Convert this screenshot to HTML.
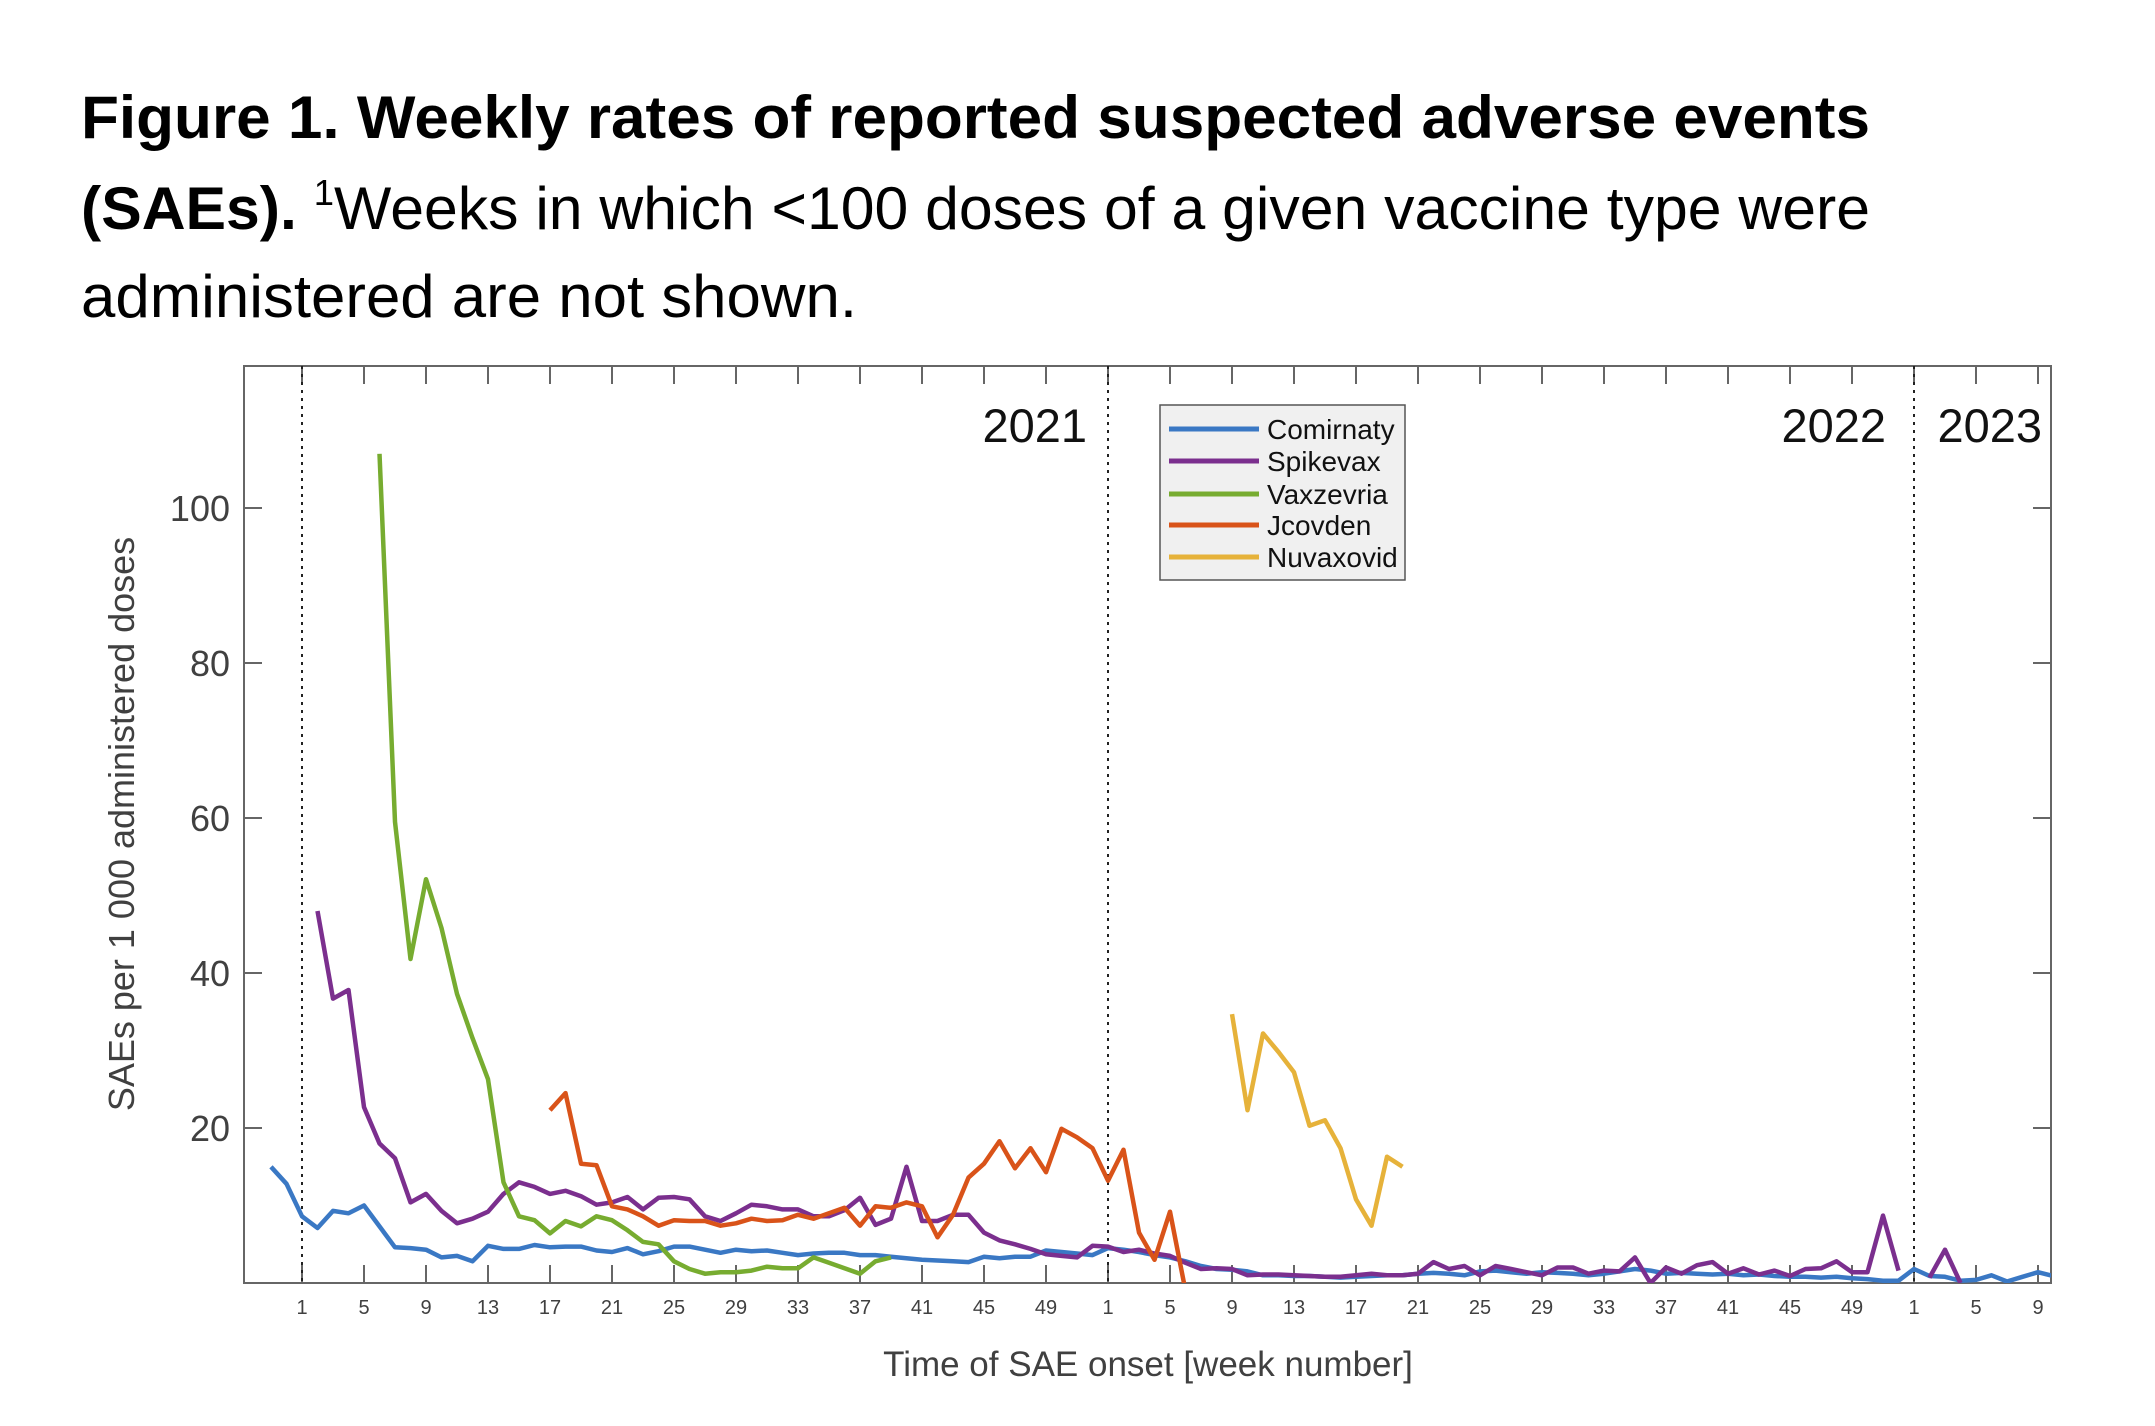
<!DOCTYPE html>
<html><head><meta charset="utf-8"><style>
html,body{margin:0;padding:0;background:#fff;}
svg{display:block;font-family:"Liberation Sans",Arial,sans-serif;}
</style></head><body>
<svg id="fig" width="2155" height="1426" viewBox="0 0 2155 1426" xmlns="http://www.w3.org/2000/svg">
<g>
<text x="81" y="138" font-size="60" font-weight="bold" textLength="1789" lengthAdjust="spacingAndGlyphs">Figure 1. Weekly rates of reported suspected adverse events</text>
<text x="81" y="229" font-size="60" textLength="1789" lengthAdjust="spacingAndGlyphs"><tspan font-weight="bold">(SAEs).</tspan> <tspan font-size="36" dy="-24">1</tspan><tspan dy="24">Weeks in which &lt;100 doses of a given vaccine type were</tspan></text>
<text x="81" y="317" font-size="60" textLength="776" lengthAdjust="spacingAndGlyphs">administered are not shown.</text>
</g>
<g id="axes"></g>
<g id="series" clip-path="url(#clip)"></g>
<defs><clipPath id="clip"><rect x="244" y="366" width="1807" height="917"/></clipPath></defs>
<g>
<rect x="1160" y="405" width="245" height="175" fill="#f0f0f0" stroke="#555" stroke-width="1.5"/>
<g id="legend-items"></g>
</g>
</svg>
<script>
const seriesNames = ["Comirnaty","Spikevax","Vaxzevria","Jcovden","Nuvaxovid"];
const seriesColors = ["#3a78c4","#7b2f8e","#77ac30","#d95319","#e6b23a"];
const seriesStart = [-2, 1, 5, 16, 60];
const comirnaty = [15,12.8,8.6,7.1,9.3,9,10,7.3,4.6,4.5,4.3,3.3,3.5,2.8,4.8,4.4,4.4,4.9,4.6,4.7,4.7,4.2,4.0,4.5,3.7,4.1,4.7,4.7,4.3,3.9,4.3,4.1,4.2,3.9,3.6,3.8,3.9,3.9,3.6,3.6,3.4,3.2,3.0,2.9,2.8,2.7,3.4,3.2,3.4,3.4,4.2,4.0,3.8,3.6,
4.5,4.3,4.0,3.6,3.3,2.8,2.2,1.8,1.7,1.5,1.0,1.0,0.9,0.9,0.8,0.7,0.8,0.9,1.0,1.0,1.2,1.3,1.2,1.0,1.5,1.6,1.4,1.2,1.4,1.3,1.2,1.0,1.2,1.5,1.8,1.6,1.2,1.3,1.2,1.1,1.2,1.0,1.1,0.9,0.8,0.8,0.7,0.8,0.6,0.5,0.3,0.3,1.8,0.9,0.8,0.3,0.4,1.0,0.2,0.8,1.4,0.9];
const spikevax = [48,36.7,37.8,22.7,18,16.1,10.4,11.5,9.3,7.7,8.3,9.2,11.5,13,12.4,11.5,11.9,11.2,10.1,10.4,11.1,9.5,11,11.1,10.8,8.6,8,9,10.1,9.9,9.5,9.5,8.6,8.6,9.4,11,7.5,8.3,15,8,8,8.8,8.8,6.5,5.5,5,4.4,3.7,3.5,3.3,4.8,
4.7,4,4.3,3.8,3.5,2.6,1.8,1.9,1.8,1.0,1.1,1.1,1.0,0.9,0.8,0.8,1.0,1.2,1.0,1.0,1.2,2.7,1.8,2.2,1.0,2.2,1.8,1.4,1.0,2.0,2.0,1.2,1.6,1.5,3.3,0.0,2.0,1.2,2.3,2.7,1.2,1.9,1.1,1.6,0.9,1.8,1.9,2.8,1.4,1.4,8.7,1.6,null,0.7,4.3,0];
const vaxzevria = [107,59.5,41.8,52.1,45.8,37.3,31.6,26.3,13,8.6,8.1,6.4,8,7.3,8.6,8.1,6.8,5.3,5,2.8,1.8,1.2,1.4,1.4,1.6,2.1,1.9,1.9,3.3,2.6,1.9,1.2,2.8,3.3];
const jcovden = [22.3,24.5,15.4,15.2,9.9,9.5,8.6,7.4,8.1,8,8,7.4,7.7,8.3,8,8.1,8.8,8.3,9,9.7,7.4,9.9,9.7,10.4,9.9,5.9,8.8,13.6,15.4,18.3,14.8,17.4,14.3,19.9,18.8,17.4,13.2,17.2,6.5,3,9.2,-1];
const nuvaxovid = [34.7,22.3,32.2,29.8,27.2,20.3,21,17.4,10.8,7.4,16.3,15];
const yTicks = [20,40,60,80,100];
const weekLabels = [1,5,9,13,17,21,25,29,33,37,41,45,49];
const yearStarts = [0,52,104];
const yearLabels = ["2021","2022","2023"];

const NS="http://www.w3.org/2000/svg";
const L=244,R=2051,T=366,B=1283;
const xs=i=>302+i*15.5;
const ys=v=>1283-v*7.75;
function mk(tag,attrs,parent){const e=document.createElementNS(NS,tag);for(const k in attrs)e.setAttribute(k,attrs[k]);parent.appendChild(e);return e;}
const ax=document.getElementById('axes');
const fr=mk('rect',{x:L,y:T,width:R-L,height:B-T,fill:'none',stroke:'#666','stroke-width':2},ax);


yTicks.forEach(v=>{
  const y=ys(v);
  const t1=mk('line',{x1:L,x2:L+18,y1:y,y2:y,stroke:'#666','stroke-width':2},ax);
  
  
  const t2=mk('line',{x1:R-18,x2:R,y1:y,y2:y,stroke:'#666','stroke-width':2},ax);
  
  
  const tx=mk('text',{x:230,y:y+13,'text-anchor':'end','font-size':36,fill:'#404040'},ax);
  tx.textContent=v;
  
  
});
const xTickIdx=[];
yearStarts.forEach((s,k)=>{weekLabels.forEach(w=>{const i=s+w-1; if(xs(i)<R-5) xTickIdx.push([i,w]);});});
xTickIdx.forEach(([i,w])=>{
  const x=xs(i);
  const a=mk('line',{x1:x,x2:x,y1:B-18,y2:B,stroke:'#666','stroke-width':2},ax);
  
  
  const b=mk('line',{x1:x,x2:x,y1:T,y2:T+18,stroke:'#666','stroke-width':2},ax);
  
  
  const tx=mk('text',{x:x,y:1314,'text-anchor':'middle','font-size':20,fill:'#404040'},ax);
  tx.textContent=w;
  
  
});
yearStarts.forEach(s=>{
  const d=mk('line',{x1:xs(s),x2:xs(s),y1:T,y2:B,stroke:'#222','stroke-width':2,'stroke-dasharray':'3,5'},ax);
  
  
});
const ylx=[1087,1886,2042];
yearLabels.forEach((t,k)=>{
  const e=mk('text',{x:ylx[k],y:442,'text-anchor':'end','font-size':47,fill:'#111'},ax);
  e.textContent=t;
  
  
});
const xt=mk('text',{x:1148,y:1376,'text-anchor':'middle','font-size':35,fill:'#404040'},ax);
xt.textContent='Time of SAE onset [week number]';


const yt=mk('text',{x:0,y:0,'text-anchor':'middle','font-size':36,fill:'#404040',transform:'translate(134,824) rotate(-90)'},ax);
yt.textContent='SAEs per 1 000 administered doses';


const data=[comirnaty,spikevax,vaxzevria,jcovden,nuvaxovid];
const sg=document.getElementById('series');
data.forEach((arr,k)=>{
  let d='',pen=false;
  arr.forEach((v,j)=>{
    if(v===null){pen=false;return;}
    d+=(pen?'L':'M')+xs(seriesStart[k]+j).toFixed(1)+','+ys(v).toFixed(1)+' ';
    pen=true;
  });
  const p=mk('path',{d:d,fill:'none',stroke:seriesColors[k],'stroke-width':4.5,'stroke-linejoin':'round'},sg);
  
  
});
const lg=document.getElementById('legend-items');
const ly=[429,461,494,525,557];
seriesNames.forEach((n,k)=>{
  const g=mk('g',{},lg);
  
  
  mk('line',{x1:1169,x2:1259,y1:ly[k],y2:ly[k],stroke:seriesColors[k],'stroke-width':5},g);
  const t=mk('text',{x:1267,y:ly[k]+10,'font-size':28,fill:'#111'},g);
  t.textContent=n;
});
</script>
</body></html>
